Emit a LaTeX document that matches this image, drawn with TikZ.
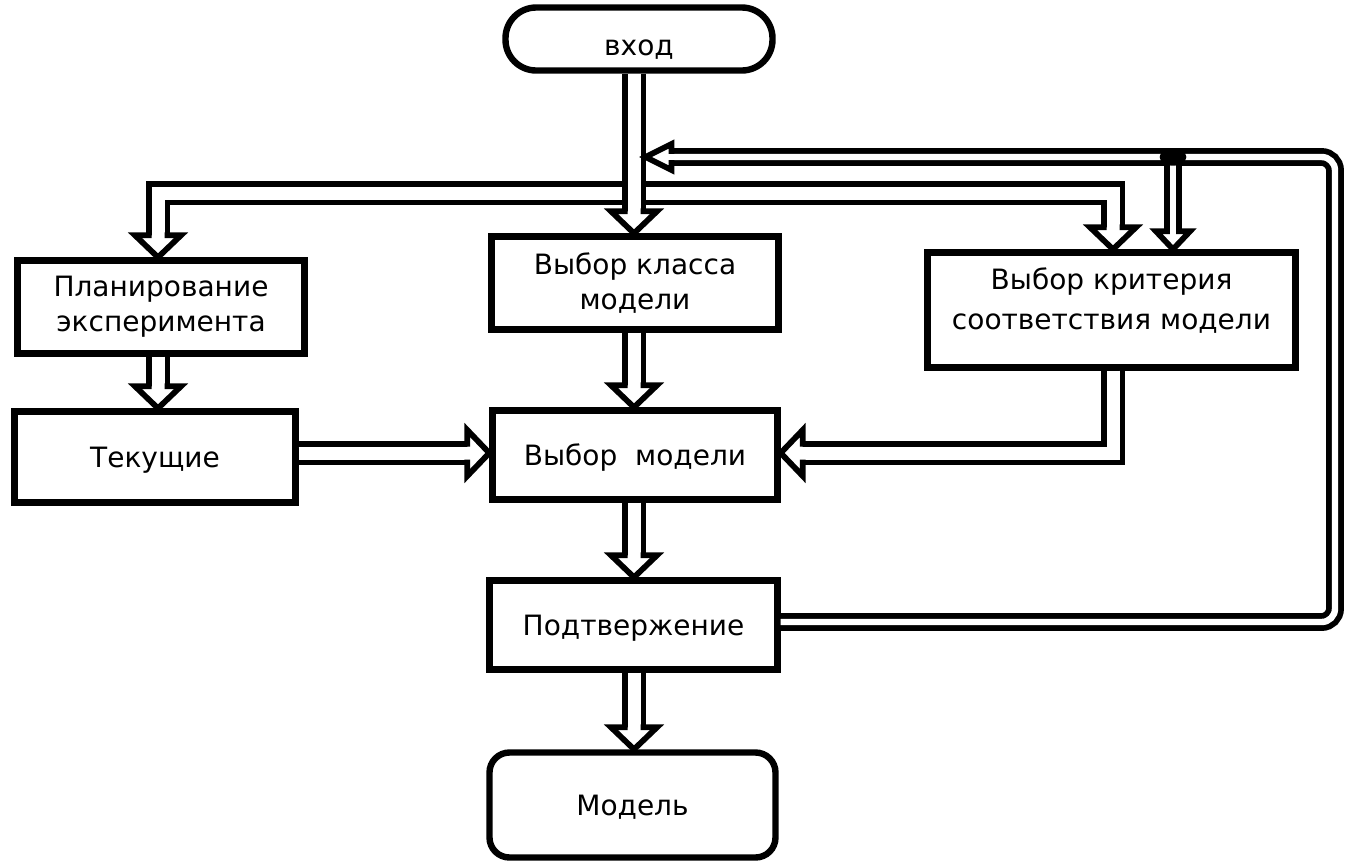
\documentclass[tikz,border=0pt]{standalone}
\usepackage{fontspec}
\setmainfont{DejaVu Sans}
\newcommand\fsz{\fontsize{21pt}{26pt}\selectfont}
\begin{document}
\begin{tikzpicture}[x=0.75pt,y=-0.75pt,
  box/.style={draw, line width=4.8pt, inner sep=0pt, align=center, font=\fsz},
  oneline/.style={text height=15.3pt, text depth=0pt},
  dbl/.style={draw, line width=4.3pt, double, double distance=9.75pt, line join=miter},
  tdbl/.style={draw, line width=4.3pt, double, double distance=4.8pt},
  mhead/.pic={\filldraw[fill=white, draw=black, line width=4.3pt, line join=miter]
      (-6.5,-22) -- (-23,-22) -- (0,0) -- (23,-22) -- (6.5,-22);},
  thead/.pic={\filldraw[fill=white, draw=black, line width=4.3pt, line join=miter]
      (-3.2,-26) -- (-13,-26) -- (0,0) -- (13,-26) -- (3.2,-26);},
  bhead/.pic={\filldraw[fill=white, draw=black, line width=4.3pt, line join=miter]
      (-3.2,-18) -- (-17,-18) -- (0,0) -- (17,-18) -- (3.2,-18);}
]
\useasboundingbox (0,0) rectangle (1347,865);

% nodes
\node[box, minimum width=200.25pt, minimum height=47.25pt, rounded corners=23pt,
      text height=24pt, text depth=0pt] (vhod) at (639,39) {вход};
\node[box, minimum width=215.25pt, minimum height=69.75pt] (vkl) at (635,283) {Выбор класса\\модели};
\node[box, minimum width=215.25pt, minimum height=69.75pt] (plan) at (161,307) {Планирование\\эксперимента};
\node[box, oneline, minimum width=210.75pt, minimum height=68.25pt] (tek) at (155,457) {Текущие};
\node[box, oneline, minimum width=213.75pt, minimum height=66.75pt] (vm) at (635,455) {Выбор\ \ модели};
\node[box, minimum width=276pt, minimum height=86.25pt] (krit) at (1111.5,310) {Выбор критерия\\[4pt]соответствия модели\\[-9pt]\mbox{}};
\node[box, oneline, minimum width=216pt, minimum height=66.75pt] (pod) at (633.5,625) {Подтвержение};
\node[box, oneline, minimum width=214.5pt, minimum height=78.75pt, rounded corners=15pt] (model) at (632.5,805) {Модель};

% helper coordinates
\coordinate (xA) at (634,0);
\coordinate (xL) at (158,0);
\coordinate (xR) at (1113,0);
\coordinate (xB) at (1173,0);
\coordinate (xF) at (1335,0);
\coordinate (yT) at (0,193);
\coordinate (yF) at (0,157);
\coordinate (yM) at (0,453);
\coordinate (yP) at (0,622);
\coordinate (fbtip) at (645.5,157);
\coordinate (junc) at (1173,157);

% top split arrow
\draw[dbl, shorten <=15pt, shorten >=15pt] (plan.north -| xL) |- (yT -| xR) -- (krit.north -| xR);
% feedback
\draw[tdbl, rounded corners=10pt, shorten >=18pt] (pod.east |- yP) -- (yP -| xF) -- (yF -| xF) -- (fbtip);
\draw[tdbl, shorten >=12pt] (junc) -- (krit.north -| xB);
\fill (junc) ellipse [x radius=10pt, y radius=6.5pt];
% main column
\draw[dbl, shorten >=15pt] (vhod.south -| xA) -- (vkl.north -| xA);
\draw[dbl, shorten >=15pt] (vkl.south -| xA) -- (vm.north -| xA);
\draw[dbl, shorten >=15pt] (vm.south -| xA) -- (pod.north -| xA);
\draw[dbl, shorten >=15pt] (pod.south -| xA) -- (model.north -| xA);
\draw[dbl, shorten >=15pt] (plan.south -| xL) -- (tek.north -| xL);
\draw[dbl, shorten >=15pt] (tek.east |- yM) -- (vm.west |- yM);
\draw[dbl, shorten >=15pt] (krit.south -| xR) |- (vm.east |- yM);

% heads
\pic at (plan.north -| xL) {mhead};
\pic at (krit.north -| xR) {mhead};
\pic at (vkl.north -| xA) {mhead};
\pic at (vm.north -| xA) {mhead};
\pic at (pod.north -| xA) {mhead};
\pic at (model.north -| xA) {mhead};
\pic at (tek.north -| xL) {mhead};
\pic[rotate=90] at (vm.west |- yM) {mhead};
\pic[rotate=-90] at (vm.east |- yM) {mhead};
\pic[rotate=-90] at (fbtip) {thead};
\pic at (krit.north -| xB) {bhead};
\end{tikzpicture}
\end{document}
